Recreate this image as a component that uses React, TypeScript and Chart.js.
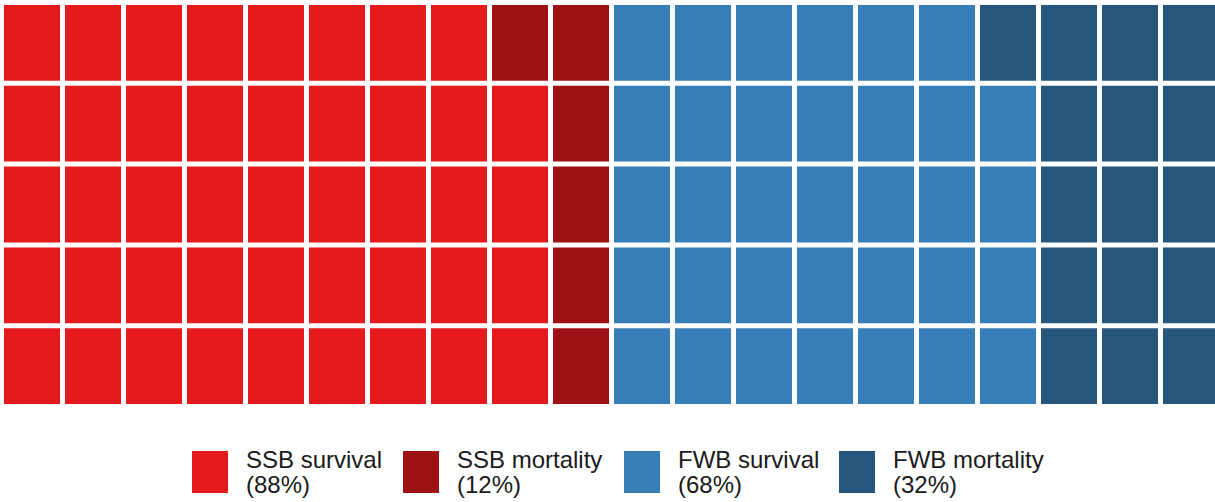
import React, { useEffect, useRef } from "react";
import { Chart, registerables } from "chart.js";

Chart.register(...registerables);

// Waffle: 20 columns x 5 rows, filled column by column from the bottom
const columnLabels = Array.from({ length: 20 }, (_, i) => String(i + 1));
const rowLabels = ["1", "2", "3", "4", "5"];
const categoryNames = ["SSB survival", "SSB mortality", "FWB survival", "FWB mortality"];
const categoryPercents = ["(88%)", "(12%)", "(68%)", "(32%)"];
const categoryCounts = [44, 6, 34, 16];
const categoryColors = ["#E41A1C", "#9E1216", "#377EB8", "#26567C"];

const legendLefts = [192, 403, 624, 839];

function cellColor(index: number): string {
  let acc = 0;
  for (let k = 0; k < categoryCounts.length; k++) {
    acc += categoryCounts[k];
    if (index < acc) return categoryColors[k];
  }
  return "#ffffff";
}

export default function App() {
  const ref = useRef<HTMLCanvasElement | null>(null);

  useEffect(() => {
    document.body.style.margin = "0";
    document.body.style.overflow = "hidden";
    const rows = rowLabels.length;
    const datasets = rowLabels.map((label, r) => ({
      label,
      data: columnLabels.map(() => 1),
      backgroundColor: columnLabels.map((_, c) => cellColor(c * rows + r)),
      borderColor: "#ffffff",
      borderWidth: 2.5,
      borderSkipped: false as const,
      inflateAmount: 0,
      barPercentage: 1,
      categoryPercentage: 1,
    }));
    const chart = new Chart(ref.current as HTMLCanvasElement, {
      type: "bar",
      data: { labels: columnLabels, datasets },
      options: {
        responsive: false,
        animation: false,
        layout: { padding: { left: 1.5, top: 2.5, right: 3.5, bottom: 3.5 } },
        scales: {
          x: { stacked: true, display: false, grid: { display: false } },
          y: { stacked: true, display: false, min: 0, max: rows, grid: { display: false } },
        },
        plugins: { legend: { display: false }, tooltip: { enabled: false } },
      },
    });
    return () => chart.destroy();
  }, []);

  return (
    <div style={{ position: "absolute", left: 0, top: 0, width: 1215, height: 502, overflow: "hidden", background: "#ffffff" }}>
      <canvas ref={ref} width={1225} height={410} style={{ position: "absolute", left: 0, top: 0, width: 1225, height: 410 }} />
      {categoryNames.map((name, i) => (
        <div
          key={name}
          style={{
            position: "absolute",
            left: legendLefts[i],
            top: 447,
            height: 50,
            display: "flex",
            alignItems: "center",
            fontFamily: "'Liberation Sans', Arial, sans-serif",
            fontSize: 24,
            lineHeight: "25px",
            color: "#1a1a1a",
            whiteSpace: "nowrap",
          }}
        >
          <div style={{ width: 36, height: 42, background: categoryColors[i], marginRight: 18 }} />
          <div>
            <div>{name}</div>
            <div>{categoryPercents[i]}</div>
          </div>
        </div>
      ))}
    </div>
  );
}
